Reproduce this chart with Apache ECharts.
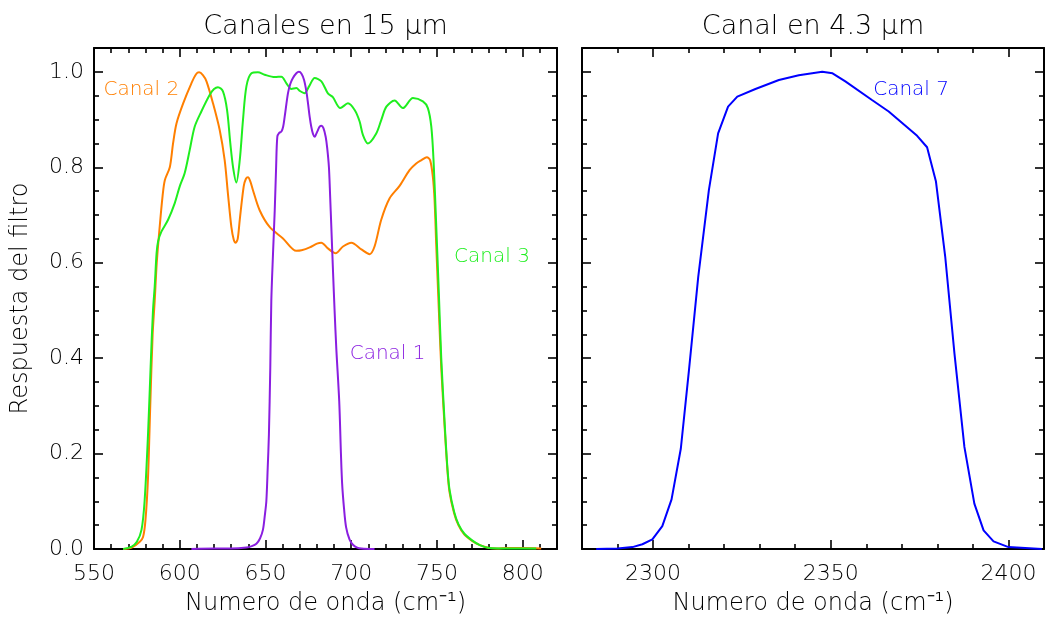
<!DOCTYPE html>
<html>
<head>
<meta charset="utf-8">
<script src="https://cdn.jsdelivr.net/npm/echarts@6/dist/echarts.min.js"></script>
<style>
html,body{margin:0;padding:0;background:#ffffff;}
#chart{width:1045px;height:618px;}
</style>
</head>
<body>
<div id="chart"></div>
<script>
// ---------- data ----------
const leftXTicks = [550, 600, 650, 700, 750, 800];
const rightXTicks = [2300, 2350, 2400];
const yTicks = [0, 0.2, 0.4, 0.6, 0.8, 1.0];

const canal2 = [[567,0],[572,0.003],[576.7,0.015],[578.6,0.025],[580,0.06],[581.5,0.15],[582.8,0.3],[584.2,0.45],[585.4,0.52],[586.6,0.6],[588.3,0.675],[590,0.74],[591.3,0.773],[594.2,0.80],[596.1,0.85],[598.1,0.892],[602,0.934],[606.8,0.976],[609.5,0.995],[611.3,0.999],[613.5,0.993],[615.6,0.98],[619.4,0.934],[623.3,0.878],[626.2,0.815],[628.1,0.745],[630.1,0.675],[631.5,0.648],[632.6,0.642],[633.8,0.65],[635,0.69],[637.3,0.76],[638.6,0.776],[639.8,0.779],[641.2,0.77],[642.7,0.752],[646.6,0.71],[652.4,0.675],[660.2,0.651],[668,0.625],[671,0.626],[675.8,0.632],[680,0.64],[682.6,0.642],[686.4,0.63],[690.9,0.62],[695.2,0.634],[700.1,0.642],[705.9,0.628],[710.7,0.618],[713.6,0.634],[717.5,0.69],[722.4,0.735],[728.2,0.761],[734,0.794],[737.9,0.808],[741,0.815],[744.1,0.821],[746,0.815],[747.6,0.78],[748.6,0.731],[749.6,0.634],[751.1,0.50],[752.5,0.38],[754.4,0.26],[756,0.17],[757.3,0.12],[760,0.075],[762.5,0.05],[766,0.03],[770.5,0.017],[775,0.008],[780.6,0.002],[785,0.001],[790,0.002],[800,0.002],[810.8,0.001]];

const canal3 = [[567,0],[572,0.005],[575,0.015],[577.7,0.04],[579.5,0.1],[581.5,0.24],[583,0.38],[584.4,0.5],[585.4,0.55],[586.5,0.62],[587.4,0.645],[589.3,0.665],[593.2,0.69],[597.1,0.725],[600,0.76],[602.9,0.788],[605.8,0.836],[608.7,0.885],[612.6,0.917],[617.5,0.952],[620,0.964],[622.3,0.968],[625.2,0.959],[627.6,0.92],[629.5,0.85],[631.1,0.80],[633,0.768],[635,0.815],[636.9,0.90],[638.9,0.97],[641.8,0.997],[645.6,0.999],[649.5,0.994],[655.4,0.989],[659.3,0.99],[662.2,0.976],[665.1,0.964],[668,0.966],[670,0.96],[672.8,0.955],[675.5,0.97],[678.7,0.987],[682.6,0.98],[686.4,0.955],[689.3,0.947],[693.6,0.924],[698.1,0.934],[702,0.92],[704.9,0.896],[706.8,0.868],[709.7,0.85],[714.6,0.871],[717.5,0.899],[720.5,0.927],[725.3,0.94],[730.1,0.924],[736,0.945],[741.8,0.938],[744.7,0.924],[746.7,0.885],[748,0.815],[749.6,0.675],[751.1,0.536],[752.5,0.40],[754.4,0.27],[756,0.175],[757.3,0.125],[760,0.078],[762.5,0.052],[766,0.032],[770.5,0.018],[775,0.008],[780.6,0.002],[790,0.001],[807.9,0.001]];

const canal1 = [[606.8,0],[620,0.001],[630,0.001],[638.9,0.003],[642,0.006],[644.7,0.011],[646.8,0.022],[648.5,0.04],[649.6,0.07],[650.5,0.10],[651.3,0.17],[652,0.24],[652.8,0.38],[653.4,0.52],[654.4,0.62],[655.4,0.71],[656.2,0.80],[656.9,0.864],[658,0.872],[659.3,0.875],[660.3,0.885],[661.2,0.906],[663.1,0.955],[664.5,0.975],[666,0.987],[668,0.997],[669.5,1.0],[671,0.996],[672.5,0.983],[673.8,0.96],[674.8,0.934],[675.8,0.905],[676.7,0.885],[677.7,0.87],[678.7,0.864],[679.6,0.87],[680.6,0.878],[681.6,0.885],[682.6,0.887],[683.8,0.882],[685.1,0.864],[686,0.84],[687,0.80],[687.7,0.74],[688.4,0.675],[689.4,0.58],[690.3,0.50],[691.3,0.42],[693,0.31],[694,0.2],[694.7,0.137],[695.8,0.085],[697,0.046],[699,0.02],[701,0.009],[703.5,0.003],[706,0.001],[713.6,0]];

const canal7 = [[2284,0],[2290,0.001],[2294.2,0.004],[2297,0.01],[2299.8,0.02],[2302.6,0.048],[2305.2,0.104],[2307.8,0.21],[2310.1,0.375],[2312.7,0.57],[2315.7,0.752],[2318.3,0.871],[2321.1,0.927],[2323.7,0.948],[2328.8,0.964],[2335.4,0.983],[2341,0.993],[2347.6,1.0],[2350.5,0.997],[2354.1,0.98],[2361.6,0.941],[2366.3,0.917],[2374.3,0.866],[2377.1,0.842],[2379.6,0.77],[2382.2,0.613],[2384.8,0.41],[2387.6,0.214],[2390.4,0.095],[2393,0.039],[2395.8,0.016],[2400,0.004],[2409.4,0]];

// ---------- styling ----------
const FONT = "'DejaVu Sans', sans-serif";
const FW = 300;
const BLACK = '#000000';
const COLORS = { c1: '#8a1ee0', c2: '#ff7f00', c3: '#1fee1f', c7: '#0000ff' };

function minorTicks(min, max, step, majors) {
  const out = [];
  const n = Math.round((max - min) / step);
  for (let i = 1; i < n; i++) {
    const v = Math.round((min + i * step) * 1000) / 1000;
    if (!majors.some(m => Math.abs(m - v) < 1e-9)) out.push(v);
  }
  return out;
}

const lineW = 2;
function axisSet(kind, gridIndex, min, max, majors, minors, opts) {
  const posA = kind === 'x' ? 'bottom' : 'left';
  const posB = kind === 'x' ? 'top' : 'right';
  const base = { type: 'value', gridIndex, min, max, splitLine: { show: false }, axisPointer: { show: false } };
  const tickStyle = { color: BLACK, width: 1.6 };
  const lineStyle = { color: BLACK, width: lineW };
  const major = (pos, showLabel, extra) => Object.assign({}, base, {
    position: pos,
    axisLine: { show: true, onZero: false, lineStyle },
    axisTick: { show: true, inside: true, length: 9, customValues: majors, lineStyle: tickStyle },
    axisLabel: { show: showLabel, customValues: majors, color: BLACK, fontSize: 22, fontFamily: FONT, fontWeight: FW,
      margin: kind === 'x' ? 14 : 10,
      formatter: kind === 'y' ? (v => Number(v).toFixed(1)) : (v => String(v)) }
  }, extra || {});
  const minor = (pos) => Object.assign({}, base, {
    position: pos,
    axisLine: { show: false, onZero: false },
    axisTick: { show: true, inside: true, length: 5, customValues: minors, lineStyle: tickStyle },
    axisLabel: { show: false }
  });
  return [
    major(posA, opts.showLabel, opts.mainExtra),
    minor(posA),
    major(posB, false, opts.mirrorExtra),
    minor(posB)
  ];
}

const nameStyle = { color: BLACK, fontSize: 24, fontFamily: FONT, fontWeight: FW };
const titleStyle = { color: BLACK, fontSize: 27, fontFamily: FONT, fontWeight: FW };
const xName = 'Numero de onda (cm⁻¹)';

const xAxes = [].concat(
  axisSet('x', 0, 550, 820, leftXTicks, minorTicks(550, 820, 10, leftXTicks), {
    showLabel: true,
    mainExtra: { name: xName, nameLocation: 'middle', nameGap: 43, nameTextStyle: nameStyle },
    mirrorExtra: { name: 'Canales en 15 μm', nameLocation: 'middle', nameGap: 8, nameTextStyle: titleStyle }
  }),
  axisSet('x', 1, 2280, 2410, rightXTicks, minorTicks(2280, 2410, 10, rightXTicks), {
    showLabel: true,
    mainExtra: { name: xName, nameLocation: 'middle', nameGap: 43, nameTextStyle: nameStyle },
    mirrorExtra: { name: 'Canal en 4.3 μm', nameLocation: 'middle', nameGap: 8, nameTextStyle: titleStyle }
  })
);
const yAxes = [].concat(
  axisSet('y', 0, 0, 1.05, yTicks, minorTicks(0, 1.05, 0.05, yTicks), {
    showLabel: true,
    mainExtra: { name: 'Respuesta del filtro', nameLocation: 'middle', nameGap: 61, nameTextStyle: nameStyle }
  }),
  axisSet('y', 1, 0, 1.05, yTicks, minorTicks(0, 1.05, 0.05, yTicks), { showLabel: false })
);

function labelPoint(text, coord, color) {
  return {
    symbol: 'rect', symbolSize: 1, silent: true,
    itemStyle: { color: 'rgba(0,0,0,0)' },
    label: { show: true, position: 'inside', formatter: text, color, fontSize: 20, fontFamily: FONT, fontWeight: FW },
    data: [{ coord }]
  };
}

function lineSeries(name, data, color, gi, lbl, lblCoord, smooth) {
  return {
    name, type: 'line', data, xAxisIndex: gi * 4, yAxisIndex: gi * 4,
    symbol: 'none', smooth: smooth, clip: true,
    lineStyle: { color, width: 2 }, itemStyle: { color },
    emphasis: { disabled: true },
    markPoint: labelPoint(lbl, lblCoord, color),
    z: 3
  };
}

const chart = echarts.init(document.getElementById('chart'), null, { renderer: 'canvas' });
chart.setOption({
  animation: false,
  backgroundColor: '#ffffff',
  grid: [
    { left: 94, top: 48, width: 463, height: 501, containLabel: false, outerBoundsMode: 'none' },
    { left: 582, top: 48, width: 462, height: 501, containLabel: false, outerBoundsMode: 'none' }
  ],
  xAxis: xAxes,
  yAxis: yAxes,
  series: [
    lineSeries('Canal 2', canal2, COLORS.c2, 0, 'Canal 2', [577.6, 0.962], 0.3),
    lineSeries('Canal 3', canal3, COLORS.c3, 0, 'Canal 3', [782.1, 0.612], 0.3),
    lineSeries('Canal 1', canal1, COLORS.c1, 0, 'Canal 1', [721.2, 0.41], 0.3),
    lineSeries('Canal 7', canal7, COLORS.c7, 1, 'Canal 7', [2372.6, 0.962], false)
  ]
});
</script>
</body>
</html>
